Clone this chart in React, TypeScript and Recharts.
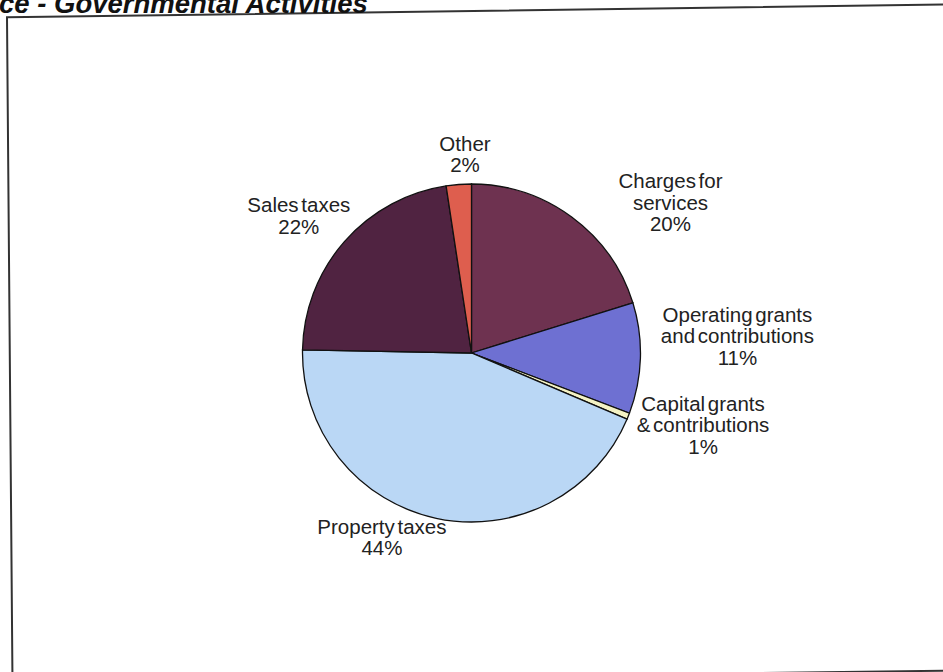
import React from "react";
import { PieChart, Pie, Cell } from "recharts";

const categories = [
  "Charges for\nservices",
  "Operating grants\nand contributions",
  "Capital grants\n& contributions",
  "Property taxes",
  "Sales taxes",
  "Other",
];
const values = [20.2, 10.6, 0.6, 43.9, 22.3, 2.4];
const colors = ["#6E3250", "#6E70D2", "#F4F2C4", "#BAD7F5", "#502341", "#DE5E4E"];
// label nudges (layout only), relative to polar point at outerRadius + 30
const labelNudge = [
  [81, 10],
  [67, -23],
  [47, -2],
  [-48, -10],
  [-23, -6],
  [8.5, 0],
];

const data = categories.map((name, i) => ({ name, value: values[i] }));

const RAD = Math.PI / 180;
const FONT = "'Liberation Sans', Arial, sans-serif";
const LH = 21.3;

const renderLabel = (props: any) => {
  const { cx, cy, midAngle, outerRadius, index, percent, name } = props;
  const r = outerRadius + 30;
  const px = cx + r * Math.cos(-midAngle * RAD);
  const py = cy + r * Math.sin(-midAngle * RAD);
  const x = px + labelNudge[index][0];
  const yMid = py + labelNudge[index][1];
  const lines = [...String(name).split("\n"), `${Math.round(percent * 100)}%`];
  const y0 = yMid - ((lines.length - 1) * LH) / 2 + 7;
  return (
    <text
      key={`lbl-${index}`}
      x={x}
      y={y0}
      textAnchor="middle"
      fill="#222"
      style={{ fontFamily: FONT, fontSize: 20.5, wordSpacing: -3 }}
    >
      {lines.map((l, i) => (
        <tspan key={i} x={x} y={y0 + i * LH}>
          {l}
        </tspan>
      ))}
    </text>
  );
};

export default function App() {
  return (
    <div
      style={{
        position: "fixed",
        left: 0,
        top: 0,
        width: 943,
        height: 672,
        background: "#ffffff",
        overflow: "hidden",
      }}
    >
      <svg
        width={943}
        height={672}
        style={{ position: "absolute", left: 0, top: 0 }}
      >
        <polygon
          points="7,17.3 960,4.3 960,670.5 12.5,682"
          fill="none"
          stroke="#333"
          strokeWidth={2}
        />
        <text
          x={-1}
          y={13}
          style={{
            fontFamily: FONT,
            fontSize: 27.5,
            fontWeight: "bold",
            fontStyle: "italic",
          }}
          fill="#111"
        >
          ce - Governmental Activities
        </text>
      </svg>
      <div style={{ position: "absolute", left: 0, top: 0 }}>
        <PieChart
          width={943}
          height={672}
          margin={{ top: 0, right: 0, bottom: 0, left: 0 }}
        >
          <Pie
            data={data}
            dataKey="value"
            nameKey="name"
            cx={471.5}
            cy={353}
            outerRadius={169}
            startAngle={90}
            endAngle={-270}
            stroke="#111"
            strokeWidth={1.3}
            label={renderLabel}
            labelLine={false}
            isAnimationActive={false}
          >
            {data.map((_, i) => (
              <Cell key={i} fill={colors[i]} />
            ))}
          </Pie>
        </PieChart>
      </div>
    </div>
  );
}
